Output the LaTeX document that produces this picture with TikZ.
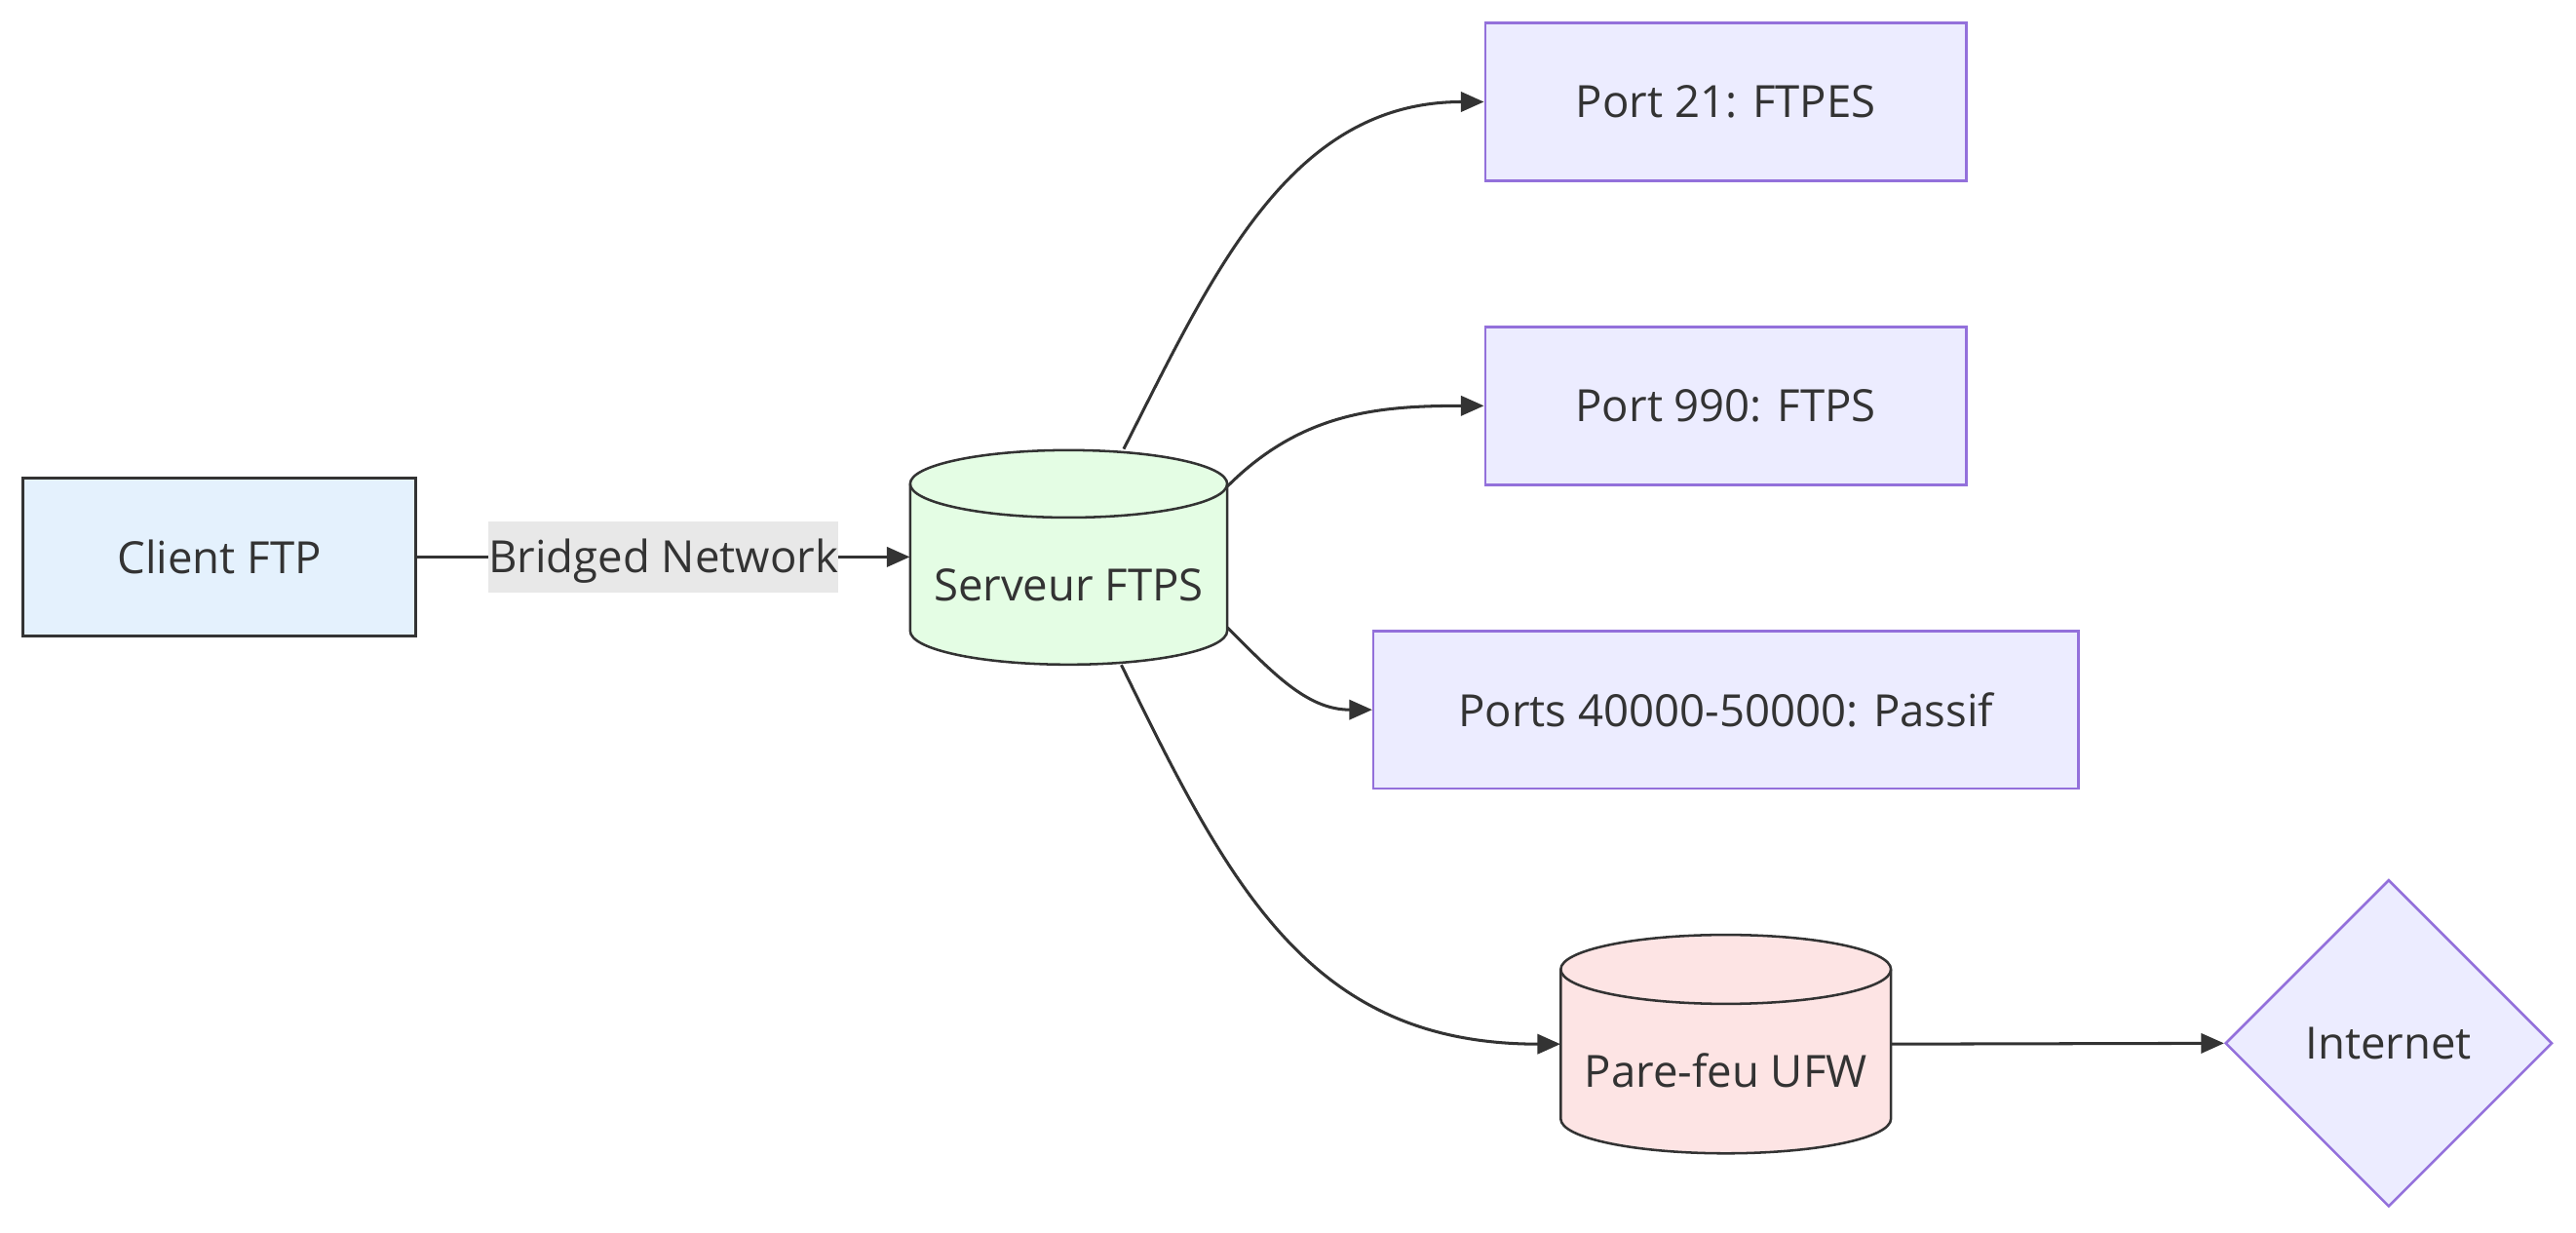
\documentclass[tikz,border=0pt]{standalone}
\usepackage{fontspec}
\setmainfont{Open Sans}
\usetikzlibrary{arrows.meta,shapes.geometric}
\definecolor{txt}{HTML}{333333}
\definecolor{lilac}{HTML}{ECECFF}
\definecolor{purp}{HTML}{9370DB}
\definecolor{clientblue}{HTML}{E4F1FD}
\definecolor{srvgreen}{HTML}{E4FDE4}
\definecolor{fwpink}{HTML}{FDE4E4}
\definecolor{lblgray}{HTML}{E8E8E8}
\begin{document}
\begin{tikzpicture}[x=1pt,y=1pt,font=\fontsize{27}{31}\selectfont,text=txt,
  portbox/.style={shape=rectangle,draw=purp,fill=lilac,line width=1.5pt,minimum height=96pt},
  cylframe/.style={minimum width=#1,minimum height=131pt,text height=60pt,text depth=7pt},
  link/.style={draw=txt,line width=1.8pt,-{Triangle[length=14pt,width=12pt]}}]
\useasboundingbox (0,0) rectangle (1568,750);
\node (client) at (133.5,411) [shape=rectangle,draw=txt,fill=clientblue,line width=1.5pt,minimum width=239pt,minimum height=96pt] {Client FTP};
\draw[fill=srvgreen,draw=txt,line width=1.5pt] (554,455.5) -- (554,366) arc[start angle=180,end angle=360,x radius=96.5,y radius=20.5] -- (747,455.5) arc[start angle=0,end angle=180,x radius=96.5,y radius=20.5] -- cycle;
\draw[txt,line width=1.5pt] (554,455.5) arc[start angle=180,end angle=360,x radius=96.5,y radius=20.5];
\node (srv) at (650.5,411) [cylframe=193pt] {Serveur FTPS};
\draw[fill=fwpink,draw=txt,line width=1.5pt] (950,160) -- (950,69) arc[start angle=180,end angle=360,x radius=100.5,y radius=21] -- (1151,160) arc[start angle=0,end angle=180,x radius=100.5,y radius=21] -- cycle;
\draw[txt,line width=1.5pt] (950,160) arc[start angle=180,end angle=360,x radius=100.5,y radius=21];
\node (fw) at (1050.5,114.5) [cylframe=201pt,minimum height=133pt] {Pare-feu UFW};
\node (p21) at (1050.5,688) [portbox,minimum width=293pt] {Port 21: FTPES};
\node (p990) at (1050.5,503) [portbox,minimum width=293pt] {Port 990: FTPS};
\node (ppasv) at (1050.5,318) [portbox,minimum width=429pt] {Ports 40000-50000: Passif};
\node (inet) at (1454,115) [shape=diamond,draw=purp,fill=lilac,line width=1.5pt,minimum width=199pt,minimum height=199pt,inner sep=0pt] {Internet};
\draw[link] (client.east) -- node[fill=lblgray,inner xsep=0pt,inner ysep=0pt,minimum height=43pt,text height=20pt,text depth=1.5pt] {Bridged Network} (srv.west);
\draw[link] (srv.63) to[out=63,in=180] (p21.west);
\draw[link] (srv.24) to[out=45,in=180] (p990.west);
\draw[link] (srv.-24) to[out=-45,in=180] (ppasv.west);
\draw[link] (srv.-64) to[out=-64,in=180,looseness=1.1] (fw.west);
\draw[link] (fw.east) -- (inet.west);
\end{tikzpicture}
\end{document}
